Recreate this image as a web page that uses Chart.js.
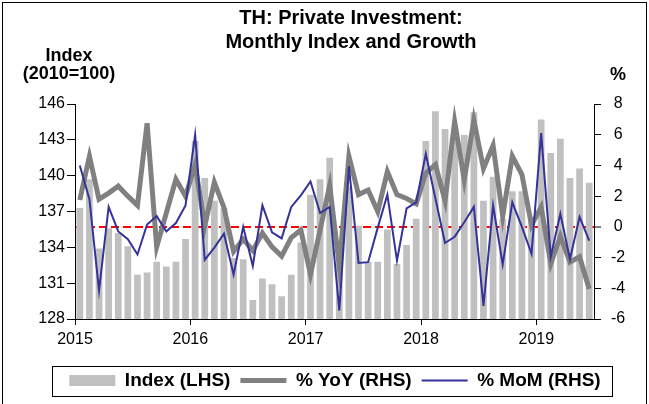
<!DOCTYPE html>
<html>
<head>
<meta charset="utf-8">
<script src="https://cdn.jsdelivr.net/npm/chart.js@4.4.1/dist/chart.umd.min.js"></script>
<style>
  html, body { margin:0; padding:0; background:#fff; overflow:hidden; }
  #caja { position:relative; width:649px; height:404px; }
  #marco { position:absolute; left:2px; top:2px; width:643px; height:420px; border:1px solid #000; pointer-events:none; }
</style>
</head>
<body>
<div id="caja">
  <canvas id="grafico" width="649" height="404"></canvas>
  <div id="marco"></div>
</div>
<script>
// datos (ene 2015 - jun 2019)
const anios = ['2015', '2016', '2017', '2018', '2019']
const meses = ['Jan', 'Feb', 'Mar', 'Apr', 'May', 'Jun', 'Jul', 'Aug', 'Sep', 'Oct', 'Nov', 'Dec']
const categorias = []
anios.forEach(a => meses.forEach(m => categorias.push(m + '-' + a.slice(2))))
categorias.length = 54

const indice = [
  137.3, 139.7, 133.9, 135.6, 135.2, 134.1, 131.7, 131.9, 132.8, 132.4, 132.8, 134.7,
  142.9, 139.8, 137.9, 137.3, 133.1, 133.0, 129.6, 131.4, 130.9, 129.9, 131.7, 134.4,
  138.4, 139.7, 141.5, 133.8, 139.1, 135.8, 132.8, 132.8, 135.5, 132.6, 134.2, 136.4,
  142.9, 145.4, 143.9, 142.9, 143.4, 145.3, 137.9, 139.9, 136.4, 138.7, 138.7, 136.2,
  144.7, 141.9, 143.1, 139.8, 140.6, 139.4
]
const yoy = [
  1.75, 4.6, 1.8, 2.2, 2.65, 2.0, 1.4, 6.75, -1.3, 0.9, 3.1, 2.0,
  4.05, 0.05, 2.9, 1.25, -1.6, -0.8, -1.55, -0.4, -1.3, -1.9, -0.7, -0.2,
  -3.1, -0.2, 2.7, -2.55, 4.6, 2.1, 2.4, 1.0, 3.6, 2.1, 1.85, 1.5,
  3.5, 4.05, 1.7, 6.85, 3.05, 6.95, 3.8, 5.3, 0.7, 4.6, 3.4, 0.1,
  1.3, -2.4, -0.6, -2.3, -1.95, -4.05
]
const mom = [
  4.0, 1.8, -4.15, 1.3, -0.3, -0.8, -1.8, 0.15, 0.7, -0.3, 0.25, 1.4,
  6.0, -2.15, -1.35, -0.45, -3.1, 0.0, -2.55, 1.4, -0.35, -0.75, 1.3, 2.05,
  2.95, 0.9, 1.3, -5.45, 3.95, -2.35, -2.3, -0.05, 2.1, -2.2, 1.2, 1.6,
  4.75, 1.85, -1.05, -0.65, 0.3, 1.3, -5.15, 1.4, -2.45, 1.6, 0.0, -1.75,
  6.1, -1.95, 0.85, -2.1, 0.65, -0.9
]

Chart.defaults.font.family = "'Liberation Sans', Arial, sans-serif"
Chart.defaults.color = '#000'

// textos de unidades, titulo un poco a la derecha y recuadro de la leyenda
const extras = {
  id: 'extras',
  afterLayout(chart) {
    if (chart.titleBlock) {
      chart.titleBlock.left += 16
      chart.titleBlock.right += 16
    }
  },
  afterDraw(chart) {
    const c = chart.ctx
    c.save()
    c.fillStyle = '#000'
    c.font = "bold 18px 'Liberation Sans', Arial, sans-serif"
    c.textAlign = 'center'
    c.textBaseline = 'middle'
    c.fillText('Index', 69, 56)
    c.fillText('(2010=100)', 69, 74)
    c.fillText('%', 618, 75)

    const cajas = chart.legend.legendHitBoxes
    if (cajas && cajas.length) {
      const primera = cajas[0]
      const ultima = cajas[cajas.length - 1]
      const izq = Math.round(primera.left - 17)
      const der = Math.round(ultima.left + ultima.width + 11)
      const arriba = Math.round(primera.top - 5)
      const abajo = Math.round(primera.top + primera.height + 6)
      c.strokeStyle = '#000'
      c.lineWidth = 1
      c.strokeRect(izq + 0.5, arriba + 0.5, der - izq, abajo - arriba)
    }
    c.restore()
  }
}

const ctx = document.getElementById('grafico').getContext('2d')
new Chart(ctx, {
  data: {
    labels: categorias,
    datasets: [
      {
        type: 'bar',
        label: 'Index (LHS)',
        data: indice,
        backgroundColor: '#C0C0C0',
        xAxisID: 'x',
        yAxisID: 'y',
        barPercentage: 0.7,
        categoryPercentage: 1,
        order: 3
      },
      {
        type: 'line',
        label: '% YoY (RHS)',
        data: yoy,
        borderColor: '#808080',
        borderWidth: 5,
        pointRadius: 0,
        tension: 0,
        xAxisID: 'x',
        yAxisID: 'y1',
        order: 2
      },
      {
        type: 'line',
        label: '% MoM (RHS)',
        data: mom,
        borderColor: '#333399',
        borderWidth: 2,
        pointRadius: 0,
        tension: 0,
        xAxisID: 'x',
        yAxisID: 'y1',
        order: 1
      }
    ]
  },
  options: {
    responsive: false,
    animation: false,
    layout: { padding: { left: 21, right: 0, top: 0, bottom: 4 } },
    plugins: {
      tooltip: { enabled: false },
      title: {
        display: true,
        text: ['TH: Private Investment:', 'Monthly Index and Growth'],
        color: '#000',
        font: { size: 20, weight: 'bold', lineHeight: 1.2 },
        padding: { top: 6, bottom: 50 }
      },
      legend: {
        position: 'bottom',
        labels: {
          usePointStyle: true,
          pointStyleWidth: 46,
          boxHeight: 11,
          padding: 10,
          color: '#000',
          font: { size: 19, weight: 'bold' },
          generateLabels: chart => chart.data.datasets.map((d, i) => ({
            text: d.label,
            fillStyle: d.type === 'bar' ? d.backgroundColor : d.borderColor,
            strokeStyle: d.type === 'bar' ? d.backgroundColor : d.borderColor,
            lineWidth: d.type === 'bar' ? 0 : d.borderWidth,
            pointStyle: d.type === 'bar' ? 'rect' : 'line',
            fontColor: '#000',
            hidden: false,
            datasetIndex: i
          }))
        }
      }
    },
    scales: {
      x: { type: 'category', display: false, offset: true },
      xAnio: {
        type: 'linear',
        position: 'bottom',
        min: 0,
        max: 54,
        grid: { drawOnChartArea: false, tickLength: 6, color: '#000' },
        border: { display: true, color: '#000' },
        ticks: {
          stepSize: 12,
          includeBounds: false,
          autoSkip: false,
          maxRotation: 0,
          padding: 5,
          color: '#000',
          font: { size: 16 },
          callback: v => anios[v / 12]
        },
        afterFit: s => { s.height = 42 }
      },
      y: {
        position: 'left',
        min: 128,
        max: 146,
        ticks: { stepSize: 3, padding: 2, color: '#000', font: { size: 16 } },
        grid: { drawOnChartArea: false, tickLength: 8, color: '#000' },
        border: { color: '#000' },
        afterFit: s => { s.width = 54 }
      },
      y1: {
        position: 'right',
        min: -6,
        max: 8,
        z: 1,
        ticks: { stepSize: 2, padding: 10, crossAlign: 'center', color: '#000', font: { size: 16 } },
        grid: {
          drawOnChartArea: true,
          tickLength: 7,
          color: c => (c.tick && c.tick.value === 0) ? '#FF0000' : 'rgba(0,0,0,0)',
          lineWidth: c => (c.tick && c.tick.value === 0) ? 2 : 1,
          tickColor: '#000',
          tickWidth: 1
        },
        border: { color: '#000', dash: [8, 4] },
        afterFit: s => { s.width = 55 }
      }
    }
  },
  plugins: [extras]
})
</script>
</body>
</html>
